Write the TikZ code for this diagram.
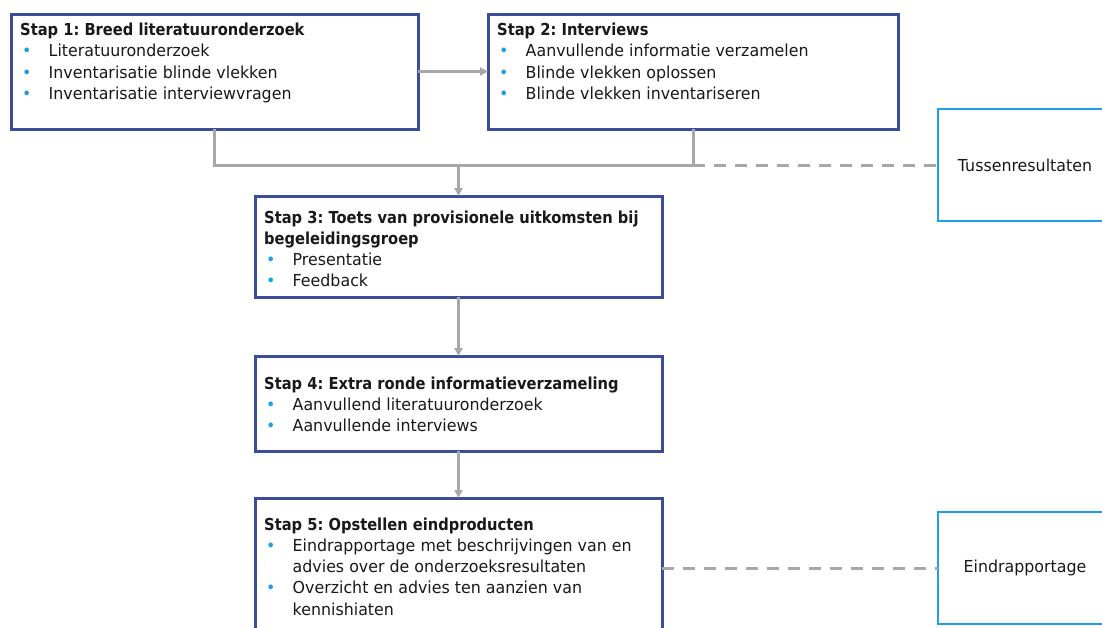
\documentclass[tikz,border=0pt]{standalone}
\usepackage{fontspec}
\setmainfont{DejaVu Sans}[FakeStretch=0.96,BoldFeatures={FakeStretch=0.89}]
\usetikzlibrary{arrows.meta}
\definecolor{boxblue}{RGB}{59,76,153}
\definecolor{lightblue}{RGB}{30,160,225}
\definecolor{linegray}{RGB}{168,168,168}
\definecolor{txtcol}{RGB}{25,25,25}
\newcommand{\bu}{\makebox[28.5pt][l]{\hspace{2pt}\textcolor{lightblue}{\textbullet}}}
\newcommand{\cont}{\hspace*{28.5pt}}
\newcommand{\lines}[1]{\parbox[t]{420pt}{\raggedright\frenchspacing\fontsize{16.5}{21.3}\selectfont #1}}
\tikzset{
  stepbox/.style={draw=boxblue, line width=3pt, anchor=north west, inner sep=0pt, outer sep=0pt, fill=white},
  resbox/.style={draw=lightblue, line width=2pt, anchor=north west, inner sep=0pt, outer sep=0pt, fill=white},
  lbl/.style={anchor=base west, inner sep=0pt, text=txtcol},
  ctr/.style={inner sep=0pt, text=txtcol, font=\fontsize{16.5}{18}\selectfont},
  gl/.style={draw=linegray, line width=3pt},
  arr/.style={gl, -{Triangle[width=8pt,length=8pt]}},
  dl/.style={draw=linegray, line width=3pt, dash pattern=on 12pt off 9pt},
}
\begin{document}
\begin{tikzpicture}[x=1pt,y=-1pt]
\useasboundingbox (0,0) rectangle (1102,627);
\clip (0,0) rectangle (1102,627);

% boxes
\node[stepbox, minimum width=407pt, minimum height=115pt] (b1) at (11,14) {};
\node[stepbox, minimum width=410pt, minimum height=115pt] (b2) at (488,14) {};
\node[stepbox, minimum width=407pt, minimum height=101pt] (b3) at (255,196) {};
\node[stepbox, minimum width=407pt, minimum height=95pt] (b4) at (255,356) {};
\node[stepbox, minimum width=407pt, minimum height=170pt] (b5) at (255,498) {};
\node[resbox, minimum width=176pt, minimum height=112pt] (tus) at (938,109) {};
\node[resbox, minimum width=176pt, minimum height=112pt] (eind) at (938,512) {};

% texts
\node[lbl] (t1) at ([shift={(9pt,-21.5pt)}]b1.north west) {\lines{\textbf{Stap 1: Breed literatuuronderzoek}\\
\bu Literatuuronderzoek\\
\bu Inventarisatie blinde vlekken\\
\bu Inventarisatie interviewvragen}};
\node[lbl] (t2) at ([shift={(9pt,-21.5pt)}]b2.north west) {\lines{\textbf{Stap 2: Interviews}\\
\bu Aanvullende informatie verzamelen\\
\bu Blinde vlekken oplossen\\
\bu Blinde vlekken inventariseren}};
\node[lbl] (t3) at ([shift={(9pt,-27pt)}]b3.north west) {\lines{\textbf{Stap 3: Toets van provisionele uitkomsten bij}\\
\textbf{begeleidingsgroep}\\
\bu Presentatie\\
\bu Feedback}};
\node[lbl] (t4) at ([shift={(9pt,-33pt)}]b4.north west) {\lines{\textbf{Stap 4: Extra ronde informatieverzameling}\\
\bu Aanvullend literatuuronderzoek\\
\bu Aanvullende interviews}};
\node[lbl] (t5) at ([shift={(9pt,-32pt)}]b5.north west) {\lines{\textbf{Stap 5: Opstellen eindproducten}\\
\bu Eindrapportage met beschrijvingen van en\\
\cont advies over de onderzoeksresultaten\\
\bu Overzicht en advies ten aanzien van\\
\cont kennishiaten}};
\node[ctr] (tt) at ([xshift=-1pt]tus.center) {Tussenresultaten};
\node[ctr] (te) at ([xshift=-1pt]eind.center) {Eindrapportage};

% connectors
\coordinate (jm) at (b3.north |- 0,165);
\draw[arr] (b1.east) -- (b2.west);
\draw[gl] (b1.south) -- (b1.south |- jm) -- (b2.south |- jm) -- (b2.south);
\draw[arr] (jm) -- (b3.north);
\draw[dl] (b2.south |- jm) -- (tus.west);
\draw[arr] (b3.south) -- (b4.north);
\draw[arr] (b4.south) -- (b5.north);
\draw[dl] (b5.east |- eind.west) -- (eind.west);
\end{tikzpicture}
\end{document}
